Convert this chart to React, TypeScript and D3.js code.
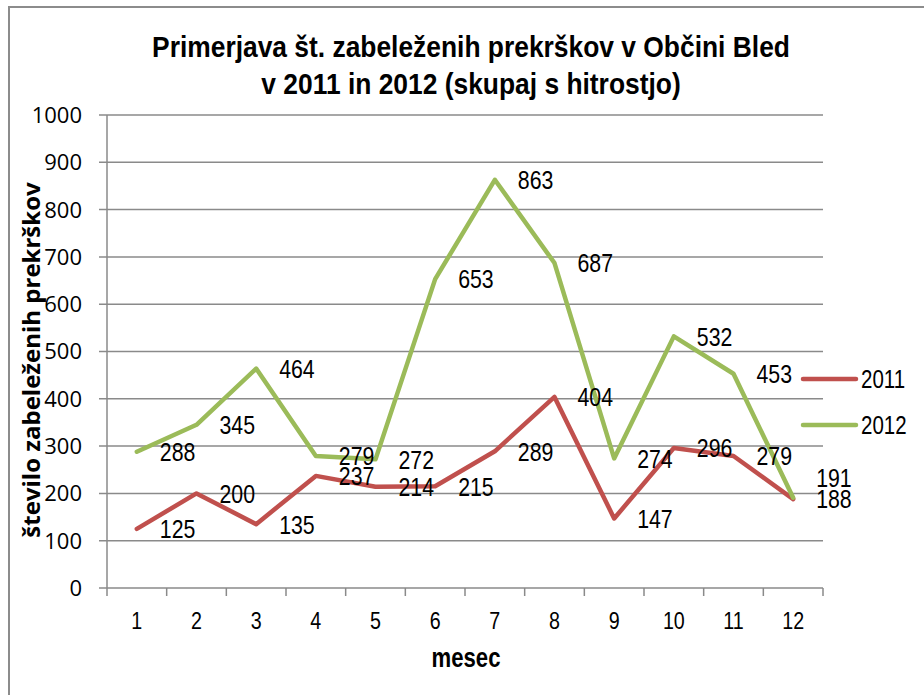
import React from "react";
import * as d3 from "d3";

const months = ["1", "2", "3", "4", "5", "6", "7", "8", "9", "10", "11", "12"];
const values2011 = [125, 200, 135, 237, 214, 215, 289, 404, 147, 296, 279, 188];
const values2012 = [288, 345, 464, 279, 272, 653, 863, 687, 274, 532, 453, 191];
const yTicks = [0, 100, 200, 300, 400, 500, 600, 700, 800, 900, 1000];
const seriesNames = ["2011", "2012"];
const colors = ["#c0504d", "#9bbb59"];
const titleLines = [
  "Primerjava št. zabeleženih prekrškov v Občini Bled",
  "v 2011 in 2012 (skupaj s hitrostjo)",
];

const W = 924;
const H = 695;
const left = 107;
const right = 823;
const top = 115;
const bottom = 588;

const arial = "'Liberation Sans', Arial, sans-serif";
const calibri = "'Open Sans', 'Noto Sans', sans-serif";
const NARROW = 0.82;

type NTProps = {
  x: number;
  y: number;
  sx?: number;
  size: number;
  bold?: boolean;
  anchor?: "start" | "middle" | "end";
  dy?: string;
  children: React.ReactNode;
};

function NText({ x, y, sx = NARROW, size, bold, anchor = "start", dy, children }: NTProps) {
  return (
    <text
      transform={`translate(${x},${y}) scale(${sx},1)`}
      textAnchor={anchor}
      dy={dy}
      fontFamily={arial}
      fontWeight={bold ? "bold" : "normal"}
      fontSize={size}
      fill="#000"
    >
      {children}
    </text>
  );
}

export default function App() {
  const x = d3.scaleBand<string>().domain(months).range([left, right]);
  const cx = (m: string) => (x(m) as number) + x.bandwidth() / 2;
  const y = d3.scaleLinear().domain([0, 1000]).range([bottom, top]);
  const line = d3
    .line<number>()
    .x((_, i) => cx(months[i]))
    .y((d) => y(d));
  const series = [values2011, values2012];
  const boundaries = months.map((m) => x(m) as number).concat([right]);

  // nudge a label upward when two labels of the same month nearly coincide
  const labelY = (si: number, j: number) => {
    const own = y(series[si][j]);
    const other = y(series[1 - si][j]);
    const diff = Math.abs(own - other);
    if (diff < 6 && series[si][j] > series[1 - si][j]) return own - 20;
    return own;
  };

  return (
    <svg
      width={W}
      height={H}
      style={{ position: "fixed", left: 0, top: 0, background: "#fff" }}
    >
      <rect x={0} y={0} width={W} height={H} fill="#fff" />
      {/* chart frame */}
      <rect x={9} y={7} width={W + 20} height={H + 20} fill="none" stroke="#8c8c8c" strokeWidth={2} />

      {/* title */}
      {titleLines.map((t, i) => (
        <NText key={"t" + i} x={471} y={57 + i * 37} sx={0.91} size={29} bold anchor="middle">
          {t}
        </NText>
      ))}

      {/* gridlines */}
      {yTicks.map((t) => (
        <line
          key={"g" + t}
          x1={99}
          x2={right}
          y1={y(t)}
          y2={y(t)}
          stroke="#8a8a8a"
          strokeWidth={1.5}
        />
      ))}
      {/* y axis */}
      <line x1={left} x2={left} y1={top} y2={bottom} stroke="#8a8a8a" strokeWidth={1.5} />
      {/* x ticks */}
      {boundaries.map((b, i) => (
        <line key={"xt" + i} x1={b} x2={b} y1={bottom} y2={bottom + 8} stroke="#8a8a8a" strokeWidth={1.5} />
      ))}

      {/* y tick labels */}
      {yTicks.map((t) => (
        <text
          key={"yl" + t}
          x={82}
          y={y(t)}
          dy="0.36em"
          textAnchor="end"
          fontFamily={calibri}
          fontSize={22}
          fill="#000"
        >
          {t}
        </text>
      ))}

      {/* x tick labels */}
      {months.map((m) => (
        <NText key={"xl" + m} x={cx(m)} y={629} size={24} anchor="middle">
          {m}
        </NText>
      ))}

      {/* axis titles */}
      <NText x={466} y={667} size={27} bold anchor="middle">
        mesec
      </NText>
      <text
        transform={`translate(40,360) rotate(-90)`}
        textAnchor="middle"
        fontFamily={calibri}
        fontWeight="bold"
        fontSize={24}
        fill="#000"
      >
        število zabeleženih prekrškov
      </text>

      {/* lines */}
      {series.map((s, i) => (
        <path
          key={"s" + i}
          d={line(s) as string}
          fill="none"
          stroke={colors[i]}
          strokeWidth={4.5}
          strokeLinejoin="round"
          strokeLinecap="round"
        />
      ))}

      {/* data labels */}
      {series.map((s, i) =>
        s.map((v, j) => (
          <NText key={`dl${i}-${j}`} x={cx(months[j]) + 23} y={labelY(i, j)} dy="0.36em" size={26}>
            {v}
          </NText>
        ))
      )}

      {/* legend */}
      {seriesNames.map((n, i) => (
        <g key={"lg" + n}>
          <line
            x1={803}
            x2={856}
            y1={379 + i * 46}
            y2={379 + i * 46}
            stroke={colors[i]}
            strokeWidth={4.5}
            strokeLinecap="round"
          />
          <NText x={861} y={379 + i * 46} dy="0.36em" size={25}>
            {n}
          </NText>
        </g>
      ))}
    </svg>
  );
}
